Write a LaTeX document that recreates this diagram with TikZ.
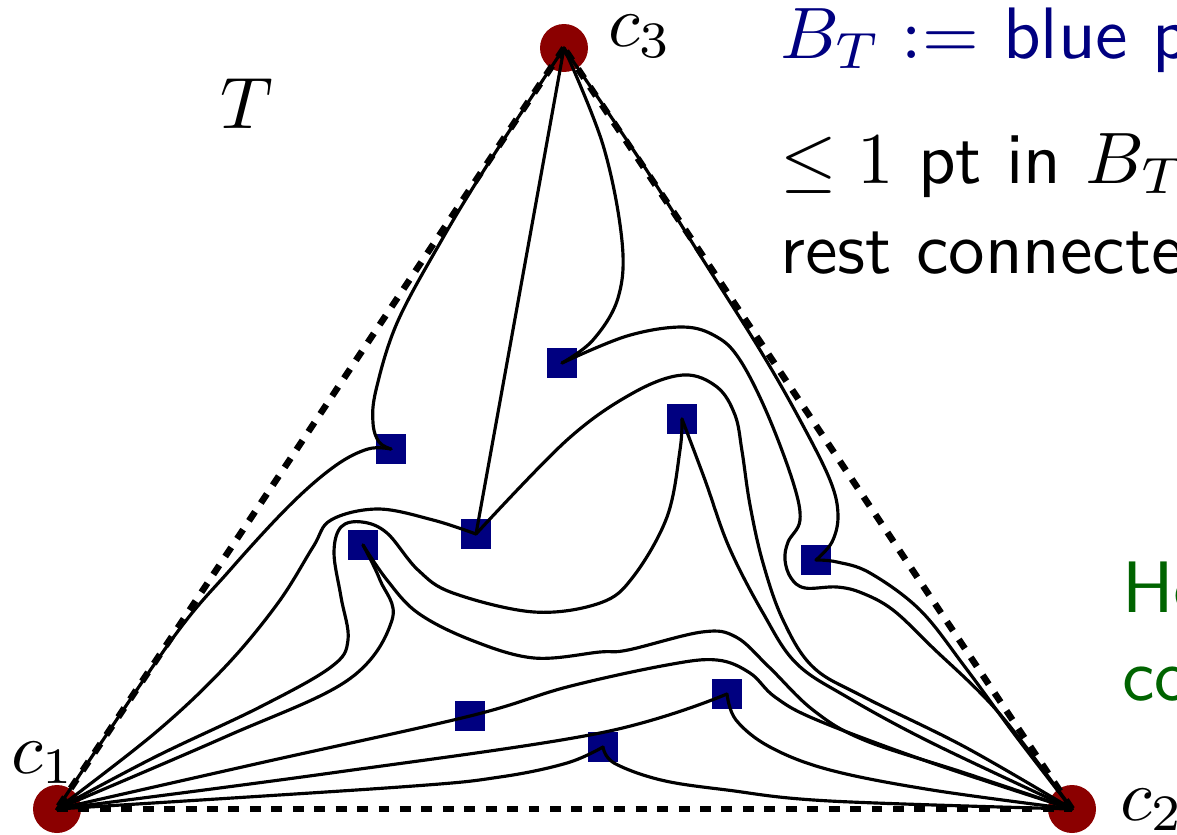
\documentclass[tikz,border=0pt]{standalone}
\usepackage{graphicx}
\definecolor{vred}{RGB}{139,0,0}
\definecolor{bnavy}{RGB}{0,0,128}
\definecolor{dgreen}{RGB}{0,100,0}
\tikzset{
  vtx/.style={circle, fill=vred, minimum size=0.96cm, inner sep=0pt},
  bsq/.style={rectangle, fill=bnavy, minimum size=0.59cm, inner sep=0pt},
  conn/.style={line width=1.8pt, line join=round, line cap=round},
  triedge/.style={line width=3.7pt, dash pattern=on 6.2pt off 6pt},
  lbl/.style={inner sep=0pt, anchor=base west, font=\normalsize},
  sm/.style={smooth, tension=0.6}
}
\newcommand{\bigtxt}[1]{\scalebox{4.15}{#1}}
\begin{document}
\begin{tikzpicture}[x=0.02cm, y=-0.02cm]
\useasboundingbox (0,0) rectangle (1177,835);
\clip (0,0) rectangle (1177,835);
% corners
\node[vtx] (c1) at (57,809) {};
\node[vtx] (c2) at (1072,809) {};
\node[vtx] (c3) at (564,48) {};
% blue points
\node[bsq] (s1) at (391,449) {};
\node[bsq] (s2) at (562,363) {};
\node[bsq] (s3) at (682,419) {};
\node[bsq] (s4) at (476,534) {};
\node[bsq] (s5) at (363,545) {};
\node[bsq] (s6) at (816,560) {};
\node[bsq] (s7) at (470,716) {};
\node[bsq] (s8) at (727,694) {};
\node[bsq] (s9) at (603,747) {};
% triangle edges
\draw[triedge] (c1.center) -- (c2.center);
\draw[triedge] (c2.center) -- (c3.center);
\draw[triedge] (c3.center) -- (c1.center);
% curves
\draw[conn] plot[sm] coordinates {(c1.center) (170,642) (230,570) (290,505) (335,466) (368,449) (s1.center)};
\draw[conn] plot[sm] coordinates {(c3.center) (486,167) (440,243) (397,323) (376,390) (373,423) (379,442) (s1.center)};
\draw[conn] (c3.center) -- (s4.center);
\draw[conn] plot[sm] coordinates {(c3.center) (603,145) (622,241) (618,298) (593,340) (s2.center)};
\draw[conn] plot[sm] coordinates {(c3.center) (640,160) (700,255) (760,350) (800,420) (830,480) (838,515) (832,542) (s6.center)};
\draw[conn] plot[sm] coordinates {(s2.center) (627,336) (683,327) (717,337) (740,360) (767,413) (793,482) (800,520) (788,542) (785,560) (791,578) (805,588) (837,587) (862,593) (893,610) (932,647) (999,713) (c2.center)};
\draw[conn] plot[sm] coordinates {(s6.center) (837,562) (870,573) (920,610) (965,667) (1015,735) (c2.center)};
\draw[conn] plot[sm] coordinates {(s4.center) (567,440) (633,393) (683,375) (717,387) (735,415) (742,451) (750,505) (763,563) (783,620) (813,667) (864,697) (965,747) (c2.center)};
\draw[conn] plot[sm] coordinates {(s4.center) (433,520) (378,509) (331,520) (313,547) (278,603) (225,667) (155,733) (c1.center)};
\draw[conn] plot[sm] coordinates {(c1.center) (155,757) (260,707) (331,667) (348,640) (341,597) (334,553) (341,527) (362,522) (387,533) (418,570) (453,593) (534,612) (600,603) (633,577) (667,517) (680,450) (s3.center)};
\draw[conn] plot[sm] coordinates {(s3.center) (705,480) (729,547) (763,613) (796,663) (847,697) (932,743) (c2.center)};
\draw[conn] plot[sm] coordinates {(c1.center) (225,737) (348,680) (392,620) (380,580) (s5.center)};
\draw[conn] plot[sm] coordinates {(s5.center) (387,580) (418,613) (471,640) (534,658) (600,652) (628,650) (702,632) (736,637) (769,667) (813,710) (864,740) (965,773) (c2.center)};
\draw[conn] plot[sm] coordinates {(c1.center) (260,763) (s7.center) (567,687) (667,665) (717,660) (750,673) (775,697) (817,720) (932,763) (c2.center)};
\draw[conn] plot[sm] coordinates {(c1.center) (331,773) (600,733) (s8.center)};
\draw[conn] plot[sm] coordinates {(s8.center) (736,720) (770,747) (830,770) (932,790) (c2.center)};
\draw[conn] plot[sm] coordinates {(c1.center) (400,787) (500,777) (567,763) (s9.center)};
\draw[conn] plot[sm] coordinates {(s9.center) (614,763) (661,780) (727,790) (830,801) (c2.center)};
% labels
\node[lbl] (lc1) at (11,773) {\bigtxt{$c_1$}};
\node[lbl] (lc2) at (1120,820) {\bigtxt{$c_2$}};
\node[lbl] (lc3) at (608,47) {\bigtxt{$c_3$}};
\node[lbl] (lT) at (220,128) {\bigtxt{$T$}};
\node[lbl, text=bnavy] (t1) at (780,58) {\bigtxt{$B_T :=$ \sffamily blue p}};
\node[lbl] (t2) at (780,183) {\bigtxt{$\leq 1$ \sffamily pt in \rmfamily $B_T$}};
\node[lbl] (t3) at (780,273) {\bigtxt{\sffamily rest connecte}};
\node[lbl, text=dgreen] (t4) at (1122,612) {\bigtxt{\sffamily He}};
\node[lbl, text=dgreen] (t5) at (1122,700) {\bigtxt{\sffamily co}};
\end{tikzpicture}
\end{document}
